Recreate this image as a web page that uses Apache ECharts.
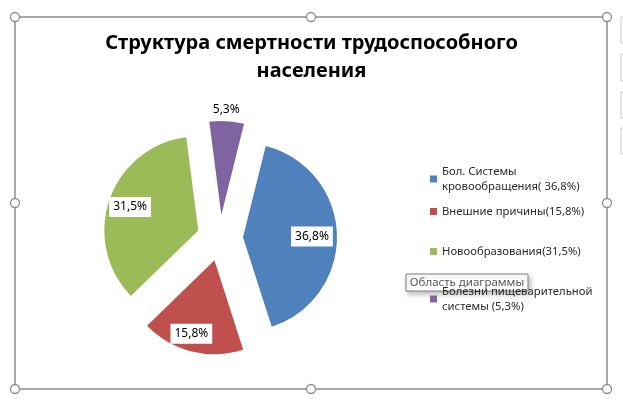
<!DOCTYPE html>
<html>
<head>
<meta charset="utf-8">
<script src="https://cdn.jsdelivr.net/npm/echarts@6/dist/echarts.min.js"></script>
<style>
  html, body { margin: 0; padding: 0; background: #fff; }
  #chart { width: 623px; height: 401px; }
</style>
</head>
<body>
<div id="chart"></div>
<script>
// данные диаграммы
const categories = [
  'Бол. Системы\nкровообращения( 36,8%)',
  'Внешние причины(15,8%)',
  'Новообразования(31,5%)',
  'Болезни пищеварительной\nсистемы (5,3%)'
];
const values = [36.8, 15.8, 31.5, 5.3];
const valueLabels = ['36,8%', '15,8%', '31,5%', '5,3%'];
const colors = ['#4F81BD', '#C0504D', '#9BBB59', '#8064A2'];

// сдвиг подписей (Excel ставит их ближе к краю сектора)
const labelShift = [[19, 1], [-11, 25], [-21, -7], [2, -56]];
// высота строки легенды, чтобы получить неровные промежутки как в Excel
const legendLineHeight = [15, 15, 45, 15];

const FONT = '"Noto Sans", sans-serif';

const chart = echarts.init(document.getElementById('chart'));

const pieData = values.map((v, i) => ({
  name: categories[i],
  value: v,
  selected: true,
  itemStyle: { color: colors[i] }
}));

const legendData = categories.map((c, i) => ({
  name: c,
  textStyle: { lineHeight: legendLineHeight[i] }
}));

// рамка области диаграммы и маркеры выделения
const handles = [[15, 17], [311, 17], [607, 17], [15, 203], [607, 203], [15, 389], [311, 389], [607, 389]];
const graphic = [{
  type: 'rect',
  shape: { x: 15, y: 17, width: 592, height: 372 },
  style: { fill: 'none', stroke: '#8c8c8c', lineWidth: 1.5 },
  z: 50
}];
handles.forEach(p => {
  graphic.push({
    type: 'circle',
    shape: { cx: p[0], cy: p[1], r: 4.5 },
    style: { fill: '#fff', stroke: '#8c8c8c', lineWidth: 1.3 },
    z: 51
  });
});
// кнопки справа (видна только кромка)
[[17, 26], [54, 27], [92, 26], [128, 26]].forEach(b => {
  graphic.push({
    type: 'rect',
    shape: { x: 621, y: b[0], width: 10, height: b[1] },
    style: { fill: '#fff', stroke: '#c8c8c8', lineWidth: 1 },
    z: 50
  });
});
// всплывающая подсказка
graphic.push({
  type: 'group',
  z: 100,
  children: [{
    type: 'rect',
    shape: { x: 406, y: 274, width: 122, height: 17 },
    style: {
      fill: '#fff', stroke: '#808080', lineWidth: 1,
      shadowBlur: 5, shadowOffsetX: 2, shadowOffsetY: 3, shadowColor: 'rgba(0,0,0,0.25)'
    }
  }, {
    type: 'text',
    style: {
      x: 467, y: 282.5, text: 'Область диаграммы', fill: '#575757',
      font: '11.5px ' + FONT, textAlign: 'center', textVerticalAlign: 'middle'
    }
  }]
});

chart.setOption({
  animation: false,
  backgroundColor: '#fff',
  title: {
    text: 'Структура смертности трудоспособного\nнаселения',
    left: 'center',
    top: 29,
    padding: 0,
    textStyle: {
      fontFamily: FONT,
      fontSize: 20,
      fontWeight: 'bold',
      color: '#000',
      lineHeight: 28
    }
  },
  legend: {
    orient: 'vertical',
    left: 430,
    top: 164,
    padding: 0,
    itemWidth: 7,
    itemHeight: 7,
    itemGap: 10,
    icon: 'rect',
    selectedMode: false,
    data: legendData,
    textStyle: { fontFamily: FONT, fontSize: 11.3, color: '#2b2b2b', lineHeight: 15 }
  },
  graphic: graphic,
  series: [{
    type: 'pie',
    center: [220, 238],
    radius: 94,
    startAngle: 76,
    clockwise: true,
    selectedMode: 'multiple',
    selectedOffset: 23,
    data: pieData,
    emphasis: { disabled: true },
    label: {
      show: true,
      position: 'inside',
      formatter: p => valueLabels[p.dataIndex],
      fontFamily: FONT,
      fontSize: 12,
      color: '#000',
      backgroundColor: '#fff',
      padding: [3, 4],
      lineHeight: 14
    },
    labelLine: { show: false },
    labelLayout: p => ({ dx: labelShift[p.dataIndex][0], dy: labelShift[p.dataIndex][1] })
  }]
});
</script>
</body>
</html>
